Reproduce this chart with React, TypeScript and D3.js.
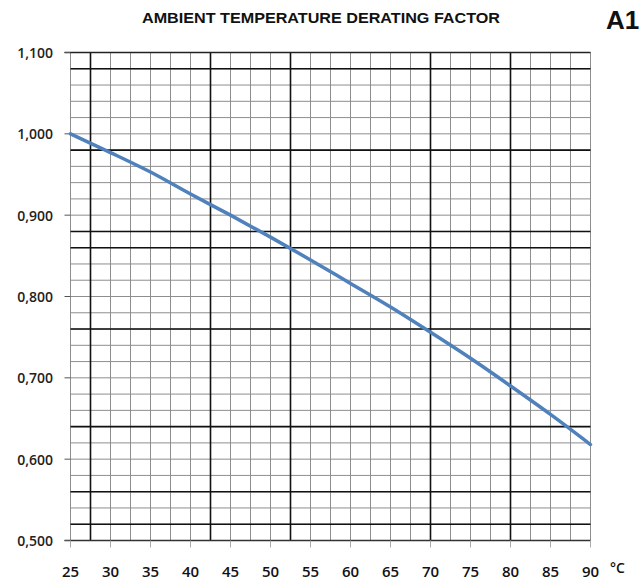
import * as d3 from "d3";

// ambient temperature (°C) and derating factor
const temps = [25, 30, 35, 40, 45, 50, 55, 60, 65, 70, 75, 80, 85, 90];
const factor = [1.0, 0.977, 0.953, 0.926, 0.9, 0.873, 0.845, 0.816, 0.787, 0.756, 0.724, 0.69, 0.655, 0.618];

const xTickLabels = ["25", "30", "35", "40", "45", "50", "55", "60", "65", "70", "75", "80", "85", "90"];
const yTickValues = [0.5, 0.6, 0.7, 0.8, 0.9, 1.0, 1.1];
const yTickLabels = ["0,500", "0,600", "0,700", "0,800", "0,900", "1,000", "1,100"];

// the paper grid: thin lines every 2.5 °C / 0.02, some drawn heavier
const heavyX = [27.5, 42.5, 52.5, 70, 80];
const heavyY = [1.08, 0.98, 0.88, 0.86, 0.76, 0.64, 0.56, 0.52];

const W = 639;
const H = 584;

export default function App() {
    const x = d3.scaleLinear([25, 90], [70.5, 590.5]);
    const y = d3.scaleLinear([0.5, 1.1], [540.5, 52.5]);
    const line = d3.line<number>((d, i) => x(temps[i]), (d) => y(d)).curve(d3.curveMonotoneX);

    const gridX = d3.range(25, 90.001, 2.5);
    const gridY = d3.range(0.5, 1.1001, 0.02);

    return (
        <svg width={W} height={H} style={{ position: "absolute", left: 0, top: 0, background: "white" }}>
            <rect width={W} height={H} fill="white" />
            <text x={321} y={23} textAnchor="middle" fontFamily="'Liberation Sans', Arial, sans-serif" fontWeight="bold" fontSize={15} textLength={358} lengthAdjust="spacingAndGlyphs" fill="#111">
                AMBIENT TEMPERATURE DERATING FACTOR
            </text>
            <text x={606} y={29} fontFamily="'Liberation Sans', Arial, sans-serif" fontWeight="bold" fontSize={26} fill="#111">A1</text>

            <g>
                {gridX.map((t) => (
                    <line key={"vx" + t} x1={x(t)} x2={x(t)} y1={y(1.1)} y2={y(0.5)} stroke="#8e8e8e" strokeWidth={1} />
                ))}
                {gridY.map((v) => (
                    <line key={"hy" + v} x1={x(25)} x2={x(90)} y1={y(v)} y2={y(v)} stroke="#8e8e8e" strokeWidth={1} />
                ))}
                {heavyX.map((t) => (
                    <line key={"HX" + t} x1={x(t)} x2={x(t)} y1={y(1.1)} y2={y(0.5)} stroke="#111" strokeWidth={1.6} />
                ))}
                {heavyY.map((v) => (
                    <line key={"HY" + v} x1={x(25)} x2={x(90)} y1={y(v)} y2={y(v)} stroke="#111" strokeWidth={1.6} />
                ))}
                <line x1={x(25) - 6} x2={x(90)} y1={y(1.1)} y2={y(1.1)} stroke="#222" strokeWidth={1.6} />
                <line x1={x(25) - 6} x2={x(90)} y1={y(0.5)} y2={y(0.5)} stroke="#333" strokeWidth={1.6} />
            </g>

            <g fontFamily="'Open Sans', sans-serif" fontWeight={600} fontSize={14} fill="#222">
                {yTickValues.map((v, i) => (
                    <g key={"yt" + v}>
                        <line x1={x(25) - 6} x2={x(25)} y1={y(v)} y2={y(v)} stroke="#555" strokeWidth={1} />
                        <text x={53} y={y(v)} textAnchor="end" dominantBaseline="central">{yTickLabels[i]}</text>
                    </g>
                ))}
            </g>

            <g fontFamily="'Open Sans', sans-serif" fontWeight={600} fontSize={15} fill="#111">
                {temps.map((t, i) => (
                    <g key={"xt" + t}>
                        <line x1={x(t)} x2={x(t)} y1={y(0.5)} y2={y(0.5) + 7} stroke="#aaa" strokeWidth={1} />
                        <text x={x(t)} y={577} textAnchor="middle">{xTickLabels[i]}</text>
                    </g>
                ))}
                <text x={610} y={573} fontSize={14}>°C</text>
            </g>

            <path d={line(factor) ?? undefined} fill="none" stroke="#4f81bd" strokeWidth={3.5} strokeLinecap="round" />
        </svg>
    );
}
